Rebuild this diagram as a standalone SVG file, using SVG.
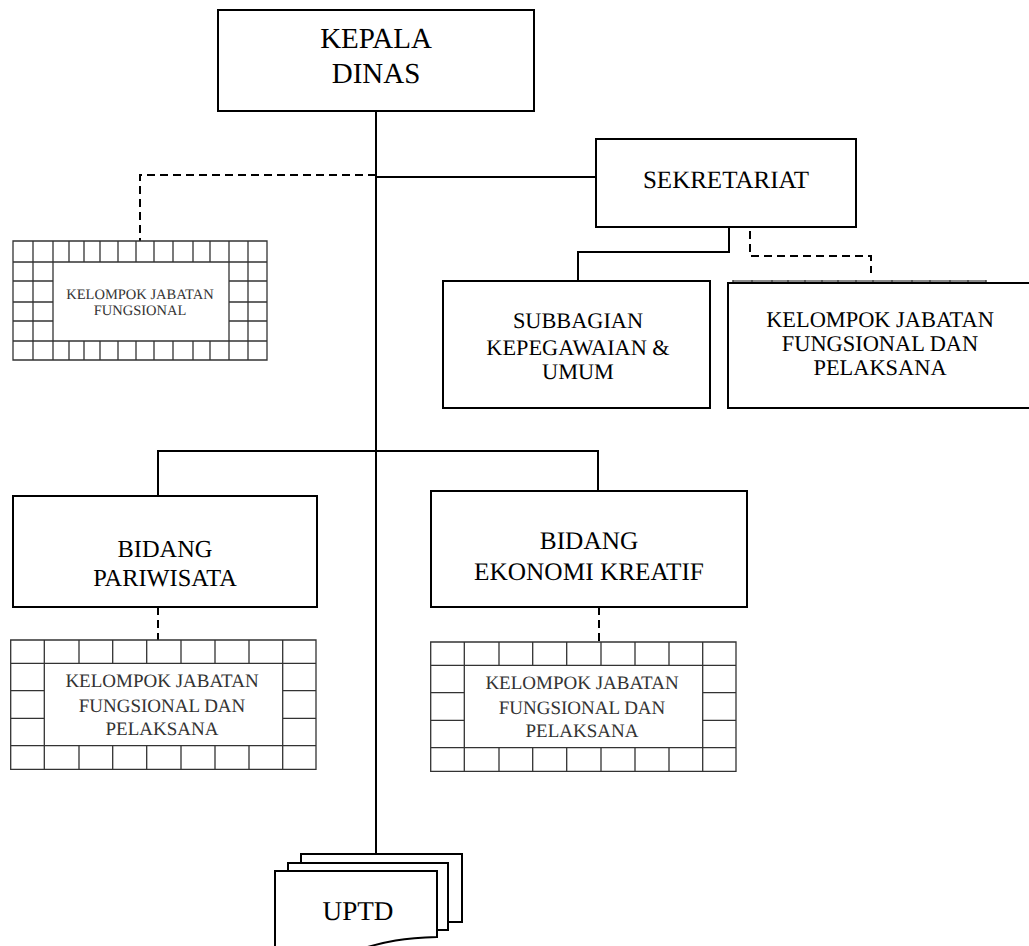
<svg xmlns="http://www.w3.org/2000/svg" width="1029" height="946" viewBox="0 0 1029 946" text-rendering="geometricPrecision">
  <style>
    .box { fill: #fff; stroke: #000; stroke-width: 2; }
    .grid { fill: none; stroke: #333; stroke-width: 1.3; }
    .line { fill: none; stroke: #000; stroke-width: 2; }
    .dash { fill: none; stroke: #000; stroke-width: 2; stroke-dasharray: 8 5; }
    text { font-family: "Liberation Serif", "Times New Roman", Times, serif; text-anchor: middle; }
    .t { fill: #000; }
    .tg { fill: #333; }
  </style>
  <rect width="1029" height="946" fill="#fff"/>

  <g id="connectors">
    <path class="line" d="M376,111 V854"/>
    <path class="line" d="M376,177 H596"/>
    <path class="dash" d="M376,175 H140 V241"/>
    <path class="line" d="M729,227 V252 H578 V281"/>
    <path class="dash" d="M750,231 V256 H871 V273"/>
    <path class="line" d="M158,496 V451 H598 V491"/>
    <path class="dash" d="M158,607 V640"/>
    <path class="dash" d="M599,607 V642"/>
  </g>

  <g id="kepala-dinas">
    <rect class="box" x="218" y="10" width="316" height="101"/>
    <text class="t" x="376" y="48" font-size="29">KEPALA</text>
    <text class="t" x="376" y="83" font-size="29">DINAS</text>
  </g>

  <g id="sekretariat">
    <rect class="box" x="596" y="139" width="260" height="88"/>
    <text class="t" x="726" y="188" font-size="25">SEKRETARIAT</text>
  </g>

  <g id="kelompok-fungsional-kiri">
    <rect x="13" y="241" width="254" height="119" fill="#fff"/>
    <path class="grid" d="M13,241 H267 V360 H13 Z M13,262 H267 M13,341 H267 M33,241 V360 M53,241 V360 M229,241 V360 M248,241 V360 M69,241 V262 M84,241 V262 M100,241 V262 M118,241 V262 M136,241 V262 M154,241 V262 M173,241 V262 M193,241 V262 M210,241 V262 M69,341 V360 M84,341 V360 M100,341 V360 M118,341 V360 M136,341 V360 M154,341 V360 M173,341 V360 M193,341 V360 M210,341 V360 M13,281 H53 M13,302 H53 M13,321 H53 M229,281 H267 M229,302 H267 M229,321 H267"/>
    <text class="tg" x="140" y="299" font-size="14.5">KELOMPOK JABATAN</text>
    <text class="tg" x="140" y="315" font-size="14.5">FUNGSIONAL</text>
  </g>

  <g id="subbagian">
    <rect class="box" x="443" y="281" width="267" height="127"/>
    <text class="t" x="578" y="328" font-size="22.3">SUBBAGIAN</text>
    <text class="t" x="578" y="355" font-size="22.3">KEPEGAWAIAN &amp;</text>
    <text class="t" x="578" y="379" font-size="22.3">UMUM</text>
  </g>

  <g id="kelompok-sekretariat">
    <rect x="732.5" y="280" width="254" height="3" fill="#8a8a8a"/>
    <path stroke="#222" stroke-width="1" d="M733,280 V283 M752,280 V283 M772,280 V283 M788,280 V283 M805,280 V283 M822,280 V283 M838,280 V283 M856,280 V283 M873,280 V283 M892,280 V283 M912,280 V283 M930,280 V283 M950,280 V283 M968,280 V283 M986,280 V283"/>
    <rect class="box" x="728" y="283" width="310" height="125"/>
    <text class="t" x="880" y="327" font-size="22.4">KELOMPOK JABATAN</text>
    <text class="t" x="880" y="351" font-size="22.4">FUNGSIONAL DAN</text>
    <text class="t" x="880" y="375" font-size="22.4">PELAKSANA</text>
  </g>

  <g id="bidang-pariwisata">
    <rect class="box" x="13" y="496" width="304" height="111"/>
    <text class="t" x="165" y="557" font-size="24.4">BIDANG</text>
    <text class="t" x="165" y="586" font-size="24.4">PARIWISATA</text>
  </g>

  <g id="bidang-ekonomi-kreatif">
    <rect class="box" x="431" y="491" width="316" height="116"/>
    <text class="t" x="589" y="549" font-size="25.3">BIDANG</text>
    <text class="t" x="589" y="580" font-size="25.3">EKONOMI KREATIF</text>
  </g>

  <defs>
    <g id="grid9">
      <rect x="10.7" y="640" width="305.3" height="129.3" fill="#fff"/>
      <path class="grid" d="M10.7,640 H316 V769.3 H10.7 Z M10.7,663.3 H316 M10.7,745.7 H316 M44.3,640 V769.3 M282.7,640 V769.3 M79,640 V663.3 M112.7,640 V663.3 M146.7,640 V663.3 M181,640 V663.3 M215,640 V663.3 M249,640 V663.3 M79,745.7 V769.3 M112.7,745.7 V769.3 M146.7,745.7 V769.3 M181,745.7 V769.3 M215,745.7 V769.3 M249,745.7 V769.3 M10.7,690.7 H44.3 M10.7,718.3 H44.3 M282.7,690.7 H316 M282.7,718.3 H316"/>
    </g>
  </defs>

  <g id="kelompok-pariwisata">
    <use href="#grid9"/>
    <text class="tg" x="162" y="687" font-size="19">KELOMPOK JABATAN</text>
    <text class="tg" x="162" y="712" font-size="19">FUNGSIONAL DAN</text>
    <text class="tg" x="162" y="735" font-size="19">PELAKSANA</text>
  </g>

  <g id="kelompok-ekonomi">
    <use href="#grid9" transform="translate(420,2)"/>
    <text class="tg" x="582" y="689" font-size="19">KELOMPOK JABATAN</text>
    <text class="tg" x="582" y="714" font-size="19">FUNGSIONAL DAN</text>
    <text class="tg" x="582" y="737" font-size="19">PELAKSANA</text>
  </g>

  <g id="uptd">
    <path class="box" d="M301,871 V854 H462 V922 H449"/>
    <path class="box" d="M288,871 V863 H448 V930 H437"/>
    <path class="box" d="M275,871 H437 V937 C 405,938 385,941 358,950 C 330,958 300,958 275,952 Z"/>
    <text class="t" x="358" y="920" font-size="27.2">UPTD</text>
  </g>
</svg>
